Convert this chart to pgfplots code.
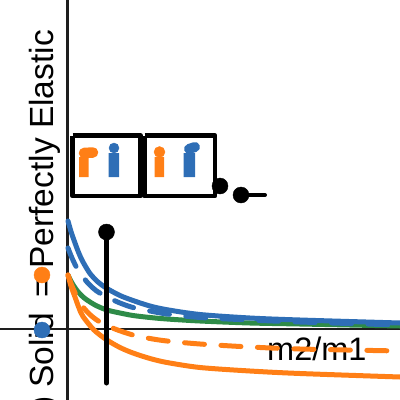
\documentclass[border=0pt]{standalone}
\usepackage{pgfplots}
\pgfplotsset{compat=1.18}
\usepackage{fontspec}
\setmainfont{Liberation Sans}
\definecolor{cb}{RGB}{46,110,182}
\definecolor{co}{RGB}{255,127,22}
\definecolor{cg}{RGB}{46,139,72}
\definecolor{ax}{RGB}{30,30,30}
\tikzset{rt/.style={rotate=90,anchor=base east,inner sep=0,font=\fontsize{33.5}{36}\selectfont}}
\begin{document}
\begin{tikzpicture}[x=1pt,y=1pt]
\clip (0,0) rectangle (400,400);
\begin{axis}[at={(0,0)},anchor=south west,scale only axis,width=400pt,height=400pt,
  xmin=0,xmax=400,ymin=0,ymax=400,y dir=reverse,axis lines=none,clip=true,
  cycle list={{}}]
% text
\node[rt] at (axis cs:53,30) {Elastic};
\node[rt] at (axis cs:53,138) {Perfectly};
\node[rt] at (axis cs:53,278) {=};
\node[rt] at (axis cs:53,313) {Solid};
\node[rt] at (axis cs:53,396) {)};
\node[anchor=base west,inner sep=0,font=\fontsize{32.5}{36}\selectfont] at (axis cs:267,360) {m2/m1};
% axes
\addplot[ax,line width=2.4pt] coordinates {(0,329) (400,329)};
\addplot[ax,line width=2.6pt] coordinates {(67.6,0) (67.6,400)};
% curves
\addplot[cg,line width=5pt,smooth,tension=0.5] coordinates {(68,275) (72,283) (77,290.5) (82,296) (87,300) (96,305.5) (107,310) (120,313) (133,315.5) (150,317.5) (167,319) (200,321) (250,323) (300,324) (400,326)};
\addplot[cb,line width=5pt,smooth,tension=0.5,line cap=round,dash pattern=on 20pt off 16.5pt] coordinates {(68,248) (72,258) (78,270) (87,282) (96,290.5) (107,297) (120,303) (133,307.5) (150,311) (167,314) (200,317.5) (250,320) (300,322) (400,325)};
\addplot[cb,line width=5pt,smooth,tension=0.5,line cap=round] coordinates {(68,221) (71,231.5) (75,243) (79,253.5) (83,262) (90,273.5) (98,282) (107,288.5) (120,295.5) (133,300.5) (150,306) (167,309.7) (200,314.5) (250,318) (300,320) (400,323)};
\addplot[co,line width=5pt,smooth,tension=0.5,line cap=round,dash pattern=on 20pt off 16.5pt] coordinates {(68,275) (72,286) (77,297) (83,307) (91,315.5) (100,322) (115,329) (133,335) (150,338.5) (167,341) (200,344) (250,347) (300,349) (400,351)};
\addplot[co,line width=5pt,smooth,tension=0.5,line cap=round] coordinates {(68,275) (71,286) (75,297) (79,308) (83,316.5) (94,330) (107,340) (120,347.5) (133,353) (150,358.5) (167,362.5) (200,367.5) (250,371) (300,373.5) (400,377)};
% stem
\addplot[black,line width=5pt,line cap=round] coordinates {(106.5,232) (106.5,383)};
% boxes
\addplot[black,line width=4.5pt,line join=round] coordinates {(72.5,135.5) (140.5,135.5) (140.5,196) (72.5,196) (72.5,135.5)};
\addplot[black,line width=4.5pt,line join=round] coordinates {(144.5,135.5) (215,135.5) (215,196) (144.5,196) (144.5,135.5)};
% figures
\addplot[fill=co,draw=none] coordinates {(79,157) (88.5,157) (88.5,177) (79,177) (79,157)};
\addplot[co,line width=10.5pt,line cap=round] coordinates {(84,153) (93,152.5)};
\addplot[fill=cb,draw=none] coordinates {(108.5,153) (119,153) (119,177) (108.5,177) (108.5,153)};
\addplot[cb,only marks,mark=*,mark size=5pt] coordinates {(114,148)};
\addplot[fill=co,draw=none] coordinates {(154.5,157) (164,157) (164,177) (154.5,177) (154.5,157)};
\addplot[co,only marks,mark=*,mark size=5.5pt] coordinates {(159.5,152)};
\addplot[fill=cb,draw=none] coordinates {(183.5,153) (195,153) (195,177) (183.5,177) (183.5,153)};
\addplot[cb,line width=10pt,line cap=round] coordinates {(189,149) (195,147)};
% markers
\addplot[black,line width=4pt,line cap=round] coordinates {(241,195) (265,195)};
\addplot[black,only marks,mark=*,mark size=8pt] coordinates {(106.5,232) (220,186) (241,195)};
\addplot[co,only marks,mark=*,mark size=8pt] coordinates {(42,275)};
\addplot[cb,only marks,mark=*,mark size=8pt] coordinates {(42,330)};
\end{axis}
\end{tikzpicture}
\end{document}
